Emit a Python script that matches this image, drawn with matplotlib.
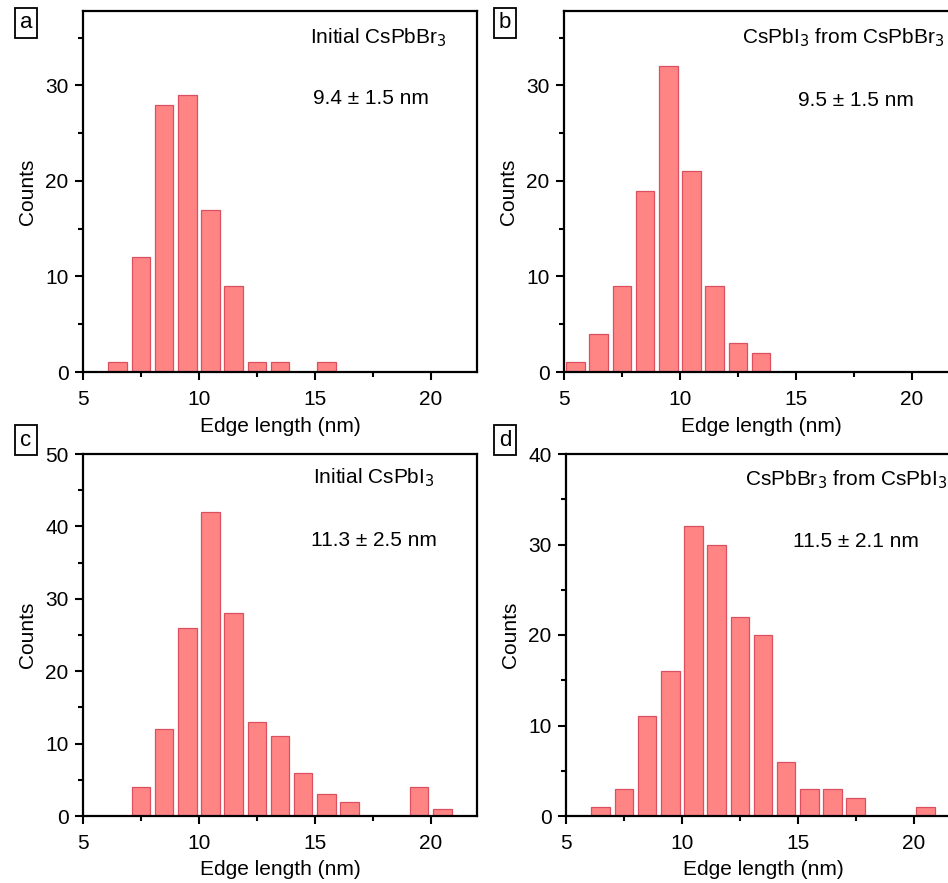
import matplotlib
matplotlib.use("Agg")
import matplotlib.pyplot as plt
from matplotlib.ticker import MultipleLocator

plt.rcParams['font.family'] = ['Liberation Sans', 'DejaVu Sans']

# Data (bin centers in nm, counts)
centers_a = [6.5, 7.5, 8.5, 9.5, 10.5, 11.5, 12.5, 13.5, 15.5]
counts_a = [1, 12, 28, 29, 17, 9, 1, 1, 1]

centers_b = [5.5, 6.5, 7.5, 8.5, 9.5, 10.5, 11.5, 12.5, 13.5]
counts_b = [1, 4, 9, 19, 32, 21, 9, 3, 2]

centers_c = [7.5, 8.5, 9.5, 10.5, 11.5, 12.5, 13.5, 14.5, 15.5, 16.5, 19.5, 20.5]
counts_c = [4, 12, 26, 42, 28, 13, 11, 6, 3, 2, 4, 1]

centers_d = [6.5, 7.5, 8.5, 9.5, 10.5, 11.5, 12.5, 13.5, 14.5, 15.5, 16.5, 17.5, 20.5]
counts_d = [1, 3, 11, 16, 32, 30, 22, 20, 6, 3, 3, 2, 1]

panel_letters = ['a', 'b', 'c', 'd']
titles = ['Initial CsPbBr$_3$', 'CsPbI$_3$ from CsPbBr$_3$',
          'Initial CsPbI$_3$', 'CsPbBr$_3$ from CsPbI$_3$']
sizes = ['9.4 ± 1.5 nm', '9.5 ± 1.5 nm', '11.3 ± 2.5 nm', '11.5 ± 2.1 nm']
ymaxes = [37.8, 37.8, 50, 40]

W, H = 948, 883
fig = plt.figure(figsize=(W / 100, H / 100), dpi=100)

def fr(x0, y0, x1, y1):
    return [x0 / W, 1 - y1 / H, (x1 - x0) / W, (y1 - y0) / H]

rects = [fr(83, 11, 477, 372), fr(564, 11, 958, 372),
         fr(83, 454, 477, 816), fr(566, 454, 960, 816)]
title_pos = [(0.576, 0.925), (0.453, 0.925), (0.585, 0.934), (0.455, 0.928)]
size_pos = [(0.584, 0.759), (0.593, 0.753), (0.578, 0.762), (0.575, 0.757)]
letter_pos = [(26, 23), (505, 23), (26, 440), (505, 440)]
xlab_y = [-0.152, -0.152, -0.149, -0.149]

data = [(centers_a, counts_a), (centers_b, counts_b),
        (centers_c, counts_c), (centers_d, counts_d)]

FS = 15
for i, (cx, cy) in enumerate(data):
    ax = fig.add_axes(rects[i])
    ax.bar(cx, cy, width=0.8, color='#FF8585', edgecolor='#DA5060', linewidth=0.9, zorder=2)
    ax.set_xlim(5, 22)
    ax.set_ylim(0, ymaxes[i])
    ax.xaxis.set_major_locator(MultipleLocator(5))
    ax.xaxis.set_minor_locator(MultipleLocator(2.5))
    ax.yaxis.set_major_locator(MultipleLocator(10))
    ax.yaxis.set_minor_locator(MultipleLocator(5))
    for s in ax.spines.values():
        s.set_linewidth(1.6)
        s.set_zorder(3)
    ax.tick_params(which='major', direction='out', length=6, width=1.5,
                   labelsize=FS, top=False, right=False)
    ax.tick_params(axis='x', which='major', pad=7)
    ax.tick_params(axis='y', which='major', pad=4.5)
    ax.tick_params(which='minor', direction='out', length=3.5, width=1.5,
                   top=False, right=False)
    xl = ax.set_xlabel('Edge length (nm)', fontsize=FS)
    yl = ax.set_ylabel('Counts', fontsize=FS)
    xl.set_va('center')
    yl.set_va('center')
    yl.set_ha('center')
    ax.xaxis.set_label_coords(0.5, xlab_y[i])
    ax.yaxis.set_label_coords(-0.14, 0.5)
    ax.text(title_pos[i][0], title_pos[i][1], titles[i], transform=ax.transAxes,
            fontsize=FS, ha='left', va='center')
    ax.text(size_pos[i][0], size_pos[i][1], sizes[i], transform=ax.transAxes,
            fontsize=FS, ha='left', va='center')
    lx, ly = letter_pos[i]
    fig.text(lx / W, 1 - ly / H, panel_letters[i], fontsize=FS + 1, ha='center', va='center',
             bbox=dict(boxstyle='square,pad=0.22', fc='white', ec='black', lw=1.3))

fig.savefig('out.png', dpi=100)
